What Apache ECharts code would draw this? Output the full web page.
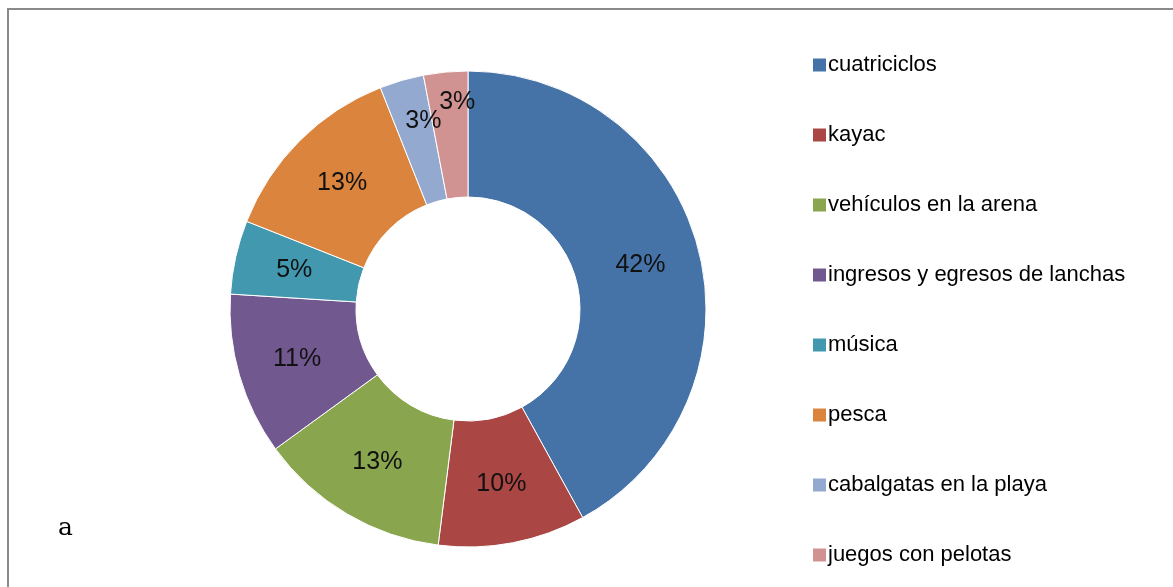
<!DOCTYPE html>
<html>
<head>
<meta charset="utf-8">
<script src="https://cdn.jsdelivr.net/npm/echarts@6/dist/echarts.min.js"></script>
<style>
  html, body { margin: 0; padding: 0; background: #fff; }
  #chart { width: 1173px; height: 587px; }
</style>
</head>
<body>
<div id="chart"></div>
<script>
(function () {

    var CATEGORIES = ['cuatriciclos', 'kayac', 'vehículos en la arena', 'ingresos y egresos de lanchas',
        'música', 'pesca', 'cabalgatas en la playa', 'juegos con pelotas'];
    var VALUES = [42, 10, 13, 11, 5, 13, 3, 3];
    var COLORS = ['#4572A7', '#AA4643', '#89A54E', '#71588F', '#4198AF', '#DB843D', '#93A9CF', '#D19392'];

    var FONT = '"Liberation Sans", Arial, sans-serif';

    var chart = echarts.init(document.getElementById('chart'));

    // the two thin slices have their labels pushed towards the outer edge
    var LABEL_OFFSETS = { 6: [5, -17], 7: [6, -30] };

    var data = [];
    for (var i = 0; i < CATEGORIES.length; i++) {
        var item = { name: CATEGORIES[i], value: VALUES[i] };
        if (LABEL_OFFSETS[i]) {
            item.label = { offset: LABEL_OFFSETS[i] };
        }
        data.push(item);
    }

    //
    var option = {
        animation: false,
        color: COLORS,
        legend: {
            orient: 'vertical',
            left: 806,
            top: 49,
            itemWidth: 15,
            itemHeight: 15,
            itemGap: 48,
            icon: 'rect',
            selectedMode: false,
            textStyle: {
                fontFamily: FONT,
                fontSize: 22,
                color: '#000',
                padding: [0, 0, 0, -4]
            },
            data: CATEGORIES
        },
        graphic: [
            {
                type: 'rect',
                shape: { x: 8, y: 9, width: 1200, height: 620 },
                style: { fill: 'none', stroke: '#8a8a8a', lineWidth: 2 }
            },
            {
                type: 'text',
                left: 58,
                top: 516,
                style: {
                    text: 'a',
                    fontFamily: '"DejaVu Serif", "Liberation Serif", serif',
                    fontSize: 25,
                    fill: '#000'
                }
            }
        ],
        series: [
            {
                type: 'pie',
                center: [468, 309],
                radius: [112, 238],
                startAngle: 90,
                clockwise: true,
                avoidLabelOverlap: false,
                itemStyle: { borderColor: '#fff', borderWidth: 1 },
                label: {
                    show: true,
                    position: 'inside',
                    formatter: '{c}%',
                    fontFamily: FONT,
                    fontSize: 25,
                    color: '#111'
                },
                labelLayout: { hideOverlap: false },
                labelLine: { show: false },
                emphasis: { disabled: true },
                data: data
            }
        ]
    };

    chart.setOption(option);

}());
</script>
</body>
</html>
